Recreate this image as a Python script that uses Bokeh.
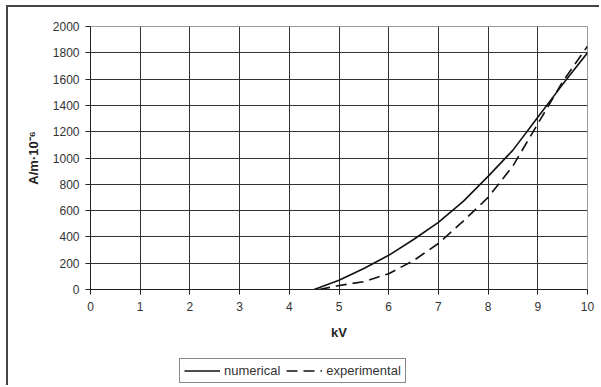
from bokeh.plotting import figure
from bokeh.models import Legend, LegendItem, Range1d, FixedTicker
from bokeh.layouts import column
from bokeh.embed import file_html
from bokeh.resources import INLINE

kv_num = [4.5, 5.0, 5.5, 6.0, 6.5, 7.0, 7.5, 8.0, 8.5, 9.0, 9.5, 10.0]
numerical = [0, 70, 160, 260, 380, 510, 670, 860, 1060, 1310, 1560, 1800]
kv_exp = [4.6, 5.0, 5.5, 6.0, 6.5, 7.0, 7.5, 8.0, 8.5, 9.0, 9.5, 10.0]
experimental = [0, 30, 60, 120, 220, 350, 520, 700, 940, 1260, 1580, 1850]
x_ticks = [0, 1, 2, 3, 4, 5, 6, 7, 8, 9, 10]
y_ticks = [0, 200, 400, 600, 800, 1000, 1200, 1400, 1600, 1800, 2000]

FONT = "Liberation Sans"

# main chart
p = figure(width=593, height=345, output_backend="svg", toolbar_location=None,
           x_range=Range1d(0, 10), y_range=Range1d(0, 2000),
           min_border_left=82, min_border_right=14, min_border_top=19, min_border_bottom=63)
p.styles = {"border-left": "2px solid #444", "border-top": "2px solid #444",
            "margin-left": "6px", "margin-top": "5px"}

p.outline_line_color = "#999999"
p.background_fill_color = "white"
p.border_fill_color = "white"

for ax, ticks in ((p.xaxis[0], x_ticks), (p.yaxis[0], y_ticks)):
    ax.ticker = FixedTicker(ticks=ticks)
    ax.minor_tick_line_color = None
    ax.major_tick_out = 5
    ax.major_tick_in = 0
    ax.axis_line_color = "#222222"
    ax.major_tick_line_color = "#222222"
    ax.major_label_text_font = FONT
    ax.major_label_text_font_size = "12px"
    ax.major_label_text_color = "#333333"
    ax.axis_label_text_font = FONT
    ax.axis_label_text_font_style = "bold"
    ax.axis_label_text_font_size = "13px"
    ax.axis_label_text_color = "#222222"

p.xaxis.axis_label = "kV"
p.yaxis.axis_label = "A/m·10⁻⁶"
p.xaxis.major_label_standoff = 7
p.xaxis.axis_label_standoff = 11
p.yaxis.major_label_standoff = 6
p.yaxis.axis_label_standoff = 9

p.xgrid.ticker = FixedTicker(ticks=x_ticks)
p.ygrid.ticker = FixedTicker(ticks=y_ticks)
for g in (p.xgrid[0], p.ygrid[0]):
    g.grid_line_color = "#333333"
    g.grid_line_width = 1

p.line(kv_num, numerical, line_color="#111111", line_width=1.6)
p.line(kv_exp, experimental, line_color="#111111", line_width=1.6, line_dash="11 6")

# legend strip below the chart
q = figure(width=593, height=35, output_backend="svg", toolbar_location=None,
           x_range=Range1d(0, 10), y_range=Range1d(5000, 6000),
           x_axis_location=None, y_axis_location=None,
           min_border_left=0, min_border_right=0, min_border_top=0, min_border_bottom=0)
q.styles = {"border-left": "2px solid #444", "margin-left": "6px"}
q.outline_line_color = None
q.xgrid.visible = False
q.ygrid.visible = False
q.background_fill_color = "white"
q.border_fill_color = "white"

l1 = q.line(kv_num, numerical, line_color="#111111", line_width=1.6)
l2 = q.line(kv_exp, experimental, line_color="#111111", line_width=1.6, line_dash="11 6")

legend = Legend(items=[LegendItem(label="numerical", renderers=[l1]),
                       LegendItem(label="experimental", renderers=[l2])],
                orientation="horizontal", location=(89, 2),
                border_line_color="#111111", border_line_width=1,
                background_fill_color="white",
                label_text_font=FONT, label_text_font_size="13px",
                label_text_color="#333333", glyph_width=36, glyph_height=13,
                label_standoff=4, spacing=6, padding=4, margin=0,
                label_height=13)
q.add_layout(legend)

layout = column(p, q, spacing=0)
open("out.html", "w").write(file_html(layout, INLINE))
